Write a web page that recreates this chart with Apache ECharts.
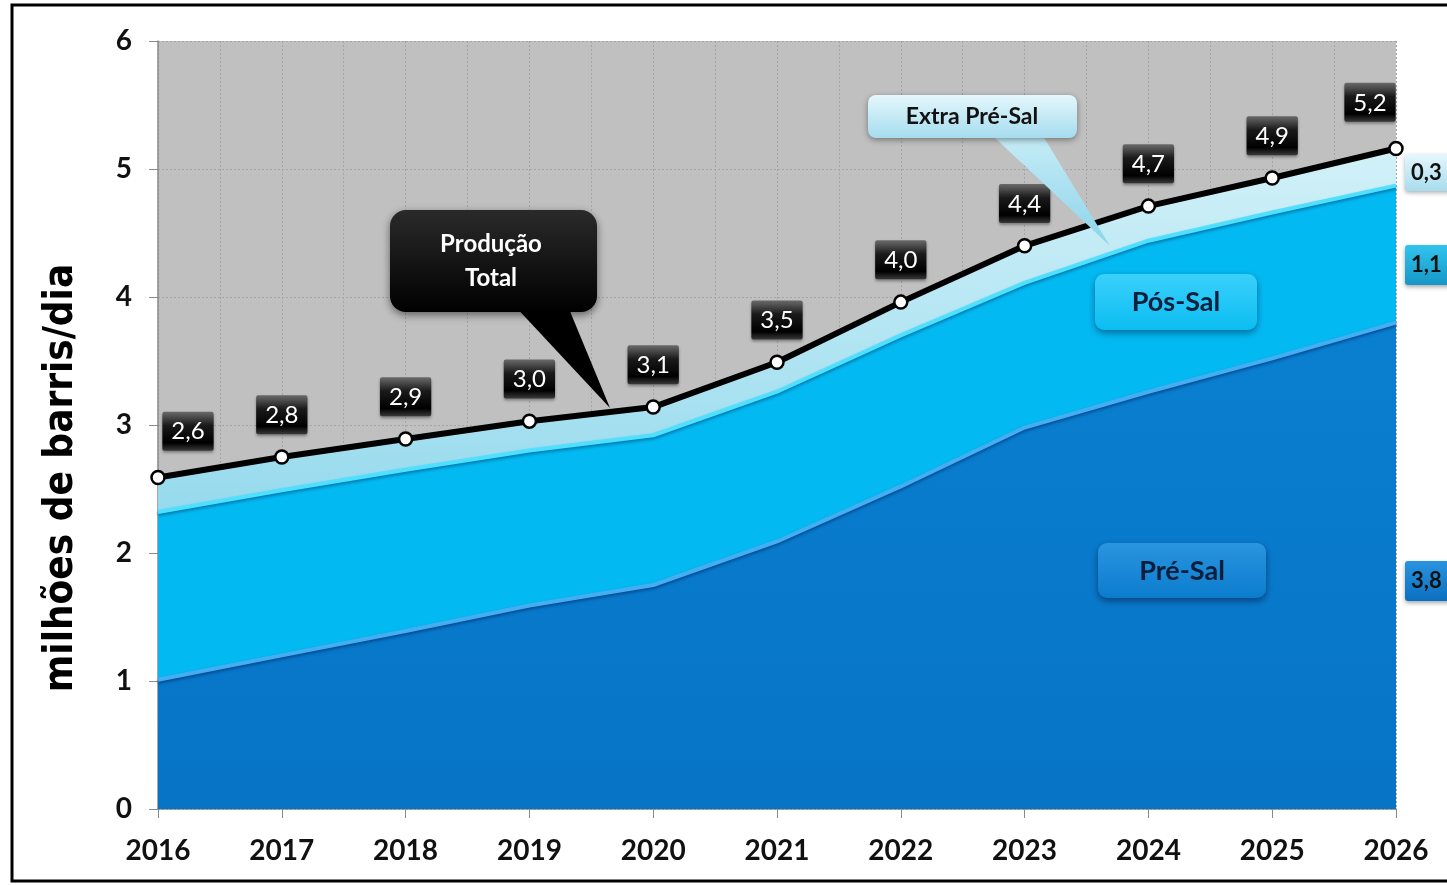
<!DOCTYPE html>
<html>
<head>
<meta charset="utf-8">
<script src="https://cdn.jsdelivr.net/npm/echarts@6/dist/echarts.min.js"></script>
<style>
html,body{margin:0;padding:0;background:#fff;}
#c{width:1447px;height:885px;}
</style>
</head>
<body>
<div id="c"></div>
<script>
const years = ['2016', '2017', '2018', '2019', '2020', '2021', '2022', '2023', '2024', '2025', '2026'];
const preSal = [1.01, 1.20, 1.39, 1.59, 1.75, 2.09, 2.52, 2.98, 3.26, 3.52, 3.80];
const posSal = [1.31, 1.29, 1.26, 1.21, 1.17, 1.17, 1.18, 1.13, 1.18, 1.14, 1.07];
const extraPreSal = [0.27, 0.26, 0.24, 0.23, 0.22, 0.22, 0.26, 0.29, 0.27, 0.28, 0.29];
const total = [2.59, 2.75, 2.89, 3.03, 3.14, 3.49, 3.96, 4.40, 4.71, 4.93, 5.16];
const totalLabels = ['2,6', '2,8', '2,9', '3,0', '3,1', '3,5', '4,0', '4,4', '4,7', '4,9', '5,2'];
const endLabels = ['0,3', '1,1', '3,8'];

const chart = echarts.init(document.getElementById('c'));

const tickFont = {fontFamily: 'Lato', fontWeight: 'bold', fontSize: 28, color: '#111'};
const darkBox = new echarts.graphic.LinearGradient(0, 0, 0, 1, [
  {offset: 0, color: '#6a6a6a'}, {offset: 0.35, color: '#1a1a1a'},
  {offset: 0.8, color: '#000'}, {offset: 1, color: '#3a3a3a'}]);

const totalData = total.map((v, i) => {
  const d = {value: v};
  if (i === 0) d.label = {offset: [30, -4]};
  if (i === total.length - 1) d.label = {offset: [-26, -4]};
  return d;
});

function grad(c1, c2) {
  return new echarts.graphic.LinearGradient(0, 0, 0, 1, [{offset: 0, color: c1}, {offset: 1, color: c2}]);
}
const gridLine = {show: true, lineStyle: {color: '#a4a4a4', type: [2, 2], width: 1}};

chart.setOption({
  animation: false,
  grid: {left: 158, right: 51, top: 41, bottom: 76, show: true, backgroundColor: '#c0c0c0', borderWidth: 0},
  xAxis: [
    {
      type: 'category', data: years, boundaryGap: false,
      axisLabel: {...tickFont, margin: 28},
      axisLine: {lineStyle: {color: '#8a8a8a', width: 1.5}},
      axisTick: {show: true, length: 9, alignWithLabel: true, lineStyle: {color: '#8a8a8a'}},
      splitLine: {show: false}
    },
    {
      type: 'value', min: 0, max: 20, interval: 1, position: 'bottom',
      axisLabel: {show: false}, axisLine: {show: false}, axisTick: {show: false},
      splitLine: gridLine
    }
  ],
  yAxis: {
    type: 'value', min: 0, max: 6, interval: 1,
    axisLabel: {...tickFont, margin: 26},
    axisLine: {show: true, lineStyle: {color: '#8a8a8a', width: 1.5}},
    axisTick: {show: true, length: 9, lineStyle: {color: '#8a8a8a'}},
    splitLine: gridLine
  },
  series: [
    {
      name: 'Pré-Sal', type: 'line', stack: 'prod', data: preSal,
      symbol: 'none', z: 2,
      lineStyle: {color: '#45aef2', width: 4, shadowColor: 'rgba(0,40,100,0.55)', shadowBlur: 3, shadowOffsetY: 2},
      areaStyle: {color: grad('#0a7fd0', '#0774c6'), opacity: 1}
    },
    {
      name: 'Pós-Sal', type: 'line', stack: 'prod', data: posSal,
      symbol: 'none', z: 2,
      lineStyle: {color: '#4fe0ff', width: 4, shadowColor: 'rgba(0,60,110,0.5)', shadowBlur: 3, shadowOffsetY: 2},
      areaStyle: {color: '#03b9f1', opacity: 1}
    },
    {
      name: 'Extra Pré-Sal', type: 'line', stack: 'prod', data: extraPreSal,
      symbol: 'none', z: 2,
      lineStyle: {color: '#8fb8c6', width: 2},
      areaStyle: {color: grad('#d2f1f8', '#96daed'), opacity: 1}
    },
    {
      name: 'Produção Total', type: 'line', data: totalData, z: 5,
      symbol: 'circle', symbolSize: 13,
      itemStyle: {color: '#fff', borderColor: '#000', borderWidth: 2.5},
      lineStyle: {color: '#000', width: 6},
      label: {
        show: true, position: 'top', distance: 15,
        formatter: p => totalLabels[p.dataIndex],
        fontFamily: 'Lato', fontSize: 24, color: '#fff',
        backgroundColor: darkBox, padding: [8, 9, 7, 9], borderRadius: 2,
        shadowColor: 'rgba(0,0,0,0.35)', shadowBlur: 3, shadowOffsetY: 2
      }
    }
  ]
});

const boxText = (x, y, text, size, color, weight) => ({
  type: 'text', x: x, y: y, z: 110,
  style: {text: text, fontFamily: 'Lato', fontSize: size, fontWeight: weight || 'bold', fill: color, align: 'center', verticalAlign: 'middle', lineHeight: size * 1.4}
});

chart.setOption({
  graphic: [
    {type: 'rect', shape: {x: 12, y: 5, width: 1500, height: 876}, style: {fill: 'none', stroke: '#000', lineWidth: 3}, z: 100, silent: true},
    {type: 'text', x: 62, y: 478, rotation: Math.PI / 2, z: 110,
      style: {text: 'milhões de barris/dia', fontFamily: 'DejaVu Sans Condensed, Liberation Sans Narrow, Roboto', fontWeight: 'bold', fontSize: 40, fill: '#000', align: 'center', verticalAlign: 'middle'}},
    // Produção Total callout
    {type: 'polygon', shape: {points: [[513, 304], [567, 304], [610, 408]]}, style: {fill: '#000'}, z: 105},
    {type: 'rect', shape: {x: 390, y: 210, width: 207, height: 102, r: 16}, z: 106,
      style: {fill: grad('#2a2a2a', '#000'), shadowColor: 'rgba(0,0,0,0.5)', shadowBlur: 8, shadowOffsetY: 3}},
    boxText(491, 261, 'Produção\nTotal', 24, '#fff'),
    // Extra Pré-Sal callout
    {type: 'polygon', shape: {points: [[993, 136], [1043, 136], [1110, 246]]}, style: {fill: grad('#c6ecf6', '#8cd4ea')}, z: 105},
    {type: 'rect', shape: {x: 868, y: 95, width: 209, height: 43, r: 8}, z: 106,
      style: {fill: grad('#e4f7fc', '#a6dcee'), shadowColor: 'rgba(0,0,0,0.4)', shadowBlur: 6, shadowOffsetY: 2}},
    boxText(972, 117, 'Extra Pré-Sal', 23, '#111'),
    // Pós-Sal
    {type: 'rect', shape: {x: 1095, y: 274, width: 162, height: 56, r: 9}, z: 106,
      style: {fill: grad('#3ad0fb', '#0cbdf2'), shadowColor: 'rgba(0,30,70,0.5)', shadowBlur: 7, shadowOffsetY: 3}},
    boxText(1176, 302, 'Pós-Sal', 27, '#0b1f3d'),
    // Pré-Sal
    {type: 'rect', shape: {x: 1098, y: 543, width: 168, height: 55, r: 9}, z: 106,
      style: {fill: grad('#2a95e0', '#0b7ccd'), shadowColor: 'rgba(0,20,60,0.55)', shadowBlur: 7, shadowOffsetY: 3}},
    boxText(1182, 571, 'Pré-Sal', 27, '#0b1f3d'),
    // right end labels
    {type: 'rect', shape: {x: 1405, y: 154, width: 60, height: 37, r: 3}, z: 106,
      style: {fill: grad('#e6f7fc', '#a8dcec'), shadowColor: 'rgba(0,0,0,0.3)', shadowBlur: 4, shadowOffsetY: 2}},
    {type: 'text', x: 1411, y: 173, z: 110, style: {text: endLabels[0], fontFamily: 'Lato', fontWeight: 'bold', fontSize: 22, fill: '#111', verticalAlign: 'middle'}},
    {type: 'rect', shape: {x: 1405, y: 245, width: 60, height: 40, r: 3}, z: 106,
      style: {fill: grad('#32c4ee', '#1697c6'), shadowColor: 'rgba(0,0,0,0.35)', shadowBlur: 4, shadowOffsetY: 2}},
    {type: 'text', x: 1411, y: 265, z: 110, style: {text: endLabels[1], fontFamily: 'Lato', fontWeight: 'bold', fontSize: 22, fill: '#111', verticalAlign: 'middle'}},
    {type: 'rect', shape: {x: 1405, y: 561, width: 60, height: 40, r: 3}, z: 106,
      style: {fill: grad('#2a94e0', '#0b6fbf'), shadowColor: 'rgba(0,0,0,0.35)', shadowBlur: 4, shadowOffsetY: 2}},
    {type: 'text', x: 1411, y: 581, z: 110, style: {text: endLabels[2], fontFamily: 'Lato', fontWeight: 'bold', fontSize: 22, fill: '#111', verticalAlign: 'middle'}}
  ]
});
</script>
</body>
</html>
